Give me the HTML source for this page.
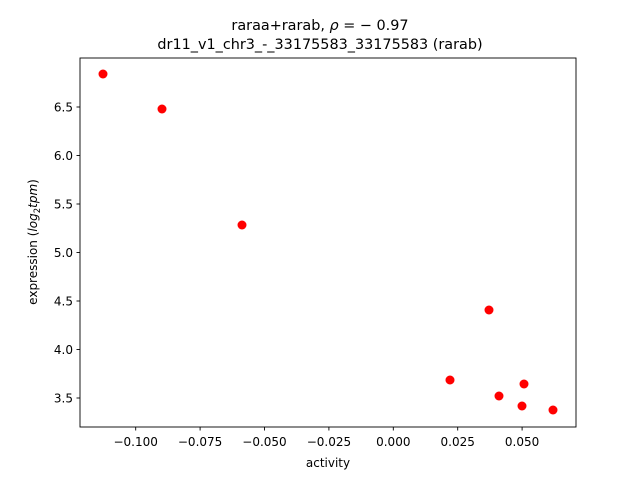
<!DOCTYPE html>
<html><head><meta charset="utf-8"><style>
html,body{margin:0;padding:0;background:#fff}
svg text{font-family:"DejaVu Sans","Liberation Sans",sans-serif;fill:#000}
</style></head><body>
<svg width="640" height="480" viewBox="0 0 640 480" xmlns="http://www.w3.org/2000/svg">
<rect width="640" height="480" fill="#fff"/>
<text x="320" y="30" font-size="14.4" text-anchor="middle">raraa+rarab, <tspan font-style="italic">ρ</tspan> = − 0.97</text>
<text x="320" y="49" font-size="14.4" text-anchor="middle">dr11_v1_chr3_-_33175583_33175583 (rarab)</text>
<rect x="80" y="58" width="496" height="369" fill="none" stroke="#000" stroke-width="0.9"/>
<g stroke="#000" stroke-width="0.9">
<line x1="135.7" y1="427" x2="135.7" y2="430.5"/>
<line x1="200.1" y1="427" x2="200.1" y2="430.5"/>
<line x1="264.5" y1="427" x2="264.5" y2="430.5"/>
<line x1="328.9" y1="427" x2="328.9" y2="430.5"/>
<line x1="393.3" y1="427" x2="393.3" y2="430.5"/>
<line x1="457.7" y1="427" x2="457.7" y2="430.5"/>
<line x1="522.1" y1="427" x2="522.1" y2="430.5"/>
<line x1="76.5" y1="398" x2="80" y2="398"/>
<line x1="76.5" y1="349.5" x2="80" y2="349.5"/>
<line x1="76.5" y1="301" x2="80" y2="301"/>
<line x1="76.5" y1="252.5" x2="80" y2="252.5"/>
<line x1="76.5" y1="204" x2="80" y2="204"/>
<line x1="76.5" y1="155.5" x2="80" y2="155.5"/>
<line x1="76.5" y1="107" x2="80" y2="107"/>
</g>
<g font-size="12" text-anchor="middle">
<text x="135.7" y="446">−0.100</text>
<text x="200.1" y="446">−0.075</text>
<text x="264.5" y="446">−0.050</text>
<text x="328.9" y="446">−0.025</text>
<text x="393.3" y="446">0.000</text>
<text x="457.7" y="446">0.025</text>
<text x="522.1" y="446">0.050</text>
</g>
<g font-size="12" text-anchor="end">
<text x="73" y="402.5">3.5</text>
<text x="73" y="354">4.0</text>
<text x="73" y="305.5">4.5</text>
<text x="73" y="257">5.0</text>
<text x="73" y="208.5">5.5</text>
<text x="73" y="160">6.0</text>
<text x="73" y="111.5">6.5</text>
</g>
<text x="328" y="467" font-size="12" text-anchor="middle">activity</text>
<text transform="translate(37,242) rotate(-90)" font-size="12" text-anchor="middle">expression (<tspan font-style="italic">log</tspan><tspan font-size="8.5" dy="3">2</tspan><tspan dy="-3" font-style="italic">tpm</tspan>)</text>
<g fill="#ff0000">
<circle cx="103" cy="74" r="4.5"/>
<circle cx="162" cy="109" r="4.5"/>
<circle cx="242" cy="225" r="4.5"/>
<circle cx="450" cy="380" r="4.5"/>
<circle cx="489" cy="310" r="4.5"/>
<circle cx="499" cy="396" r="4.5"/>
<circle cx="524" cy="384" r="4.5"/>
<circle cx="522" cy="406" r="4.5"/>
<circle cx="553" cy="410" r="4.5"/>
</g>
</svg>
</body></html>
